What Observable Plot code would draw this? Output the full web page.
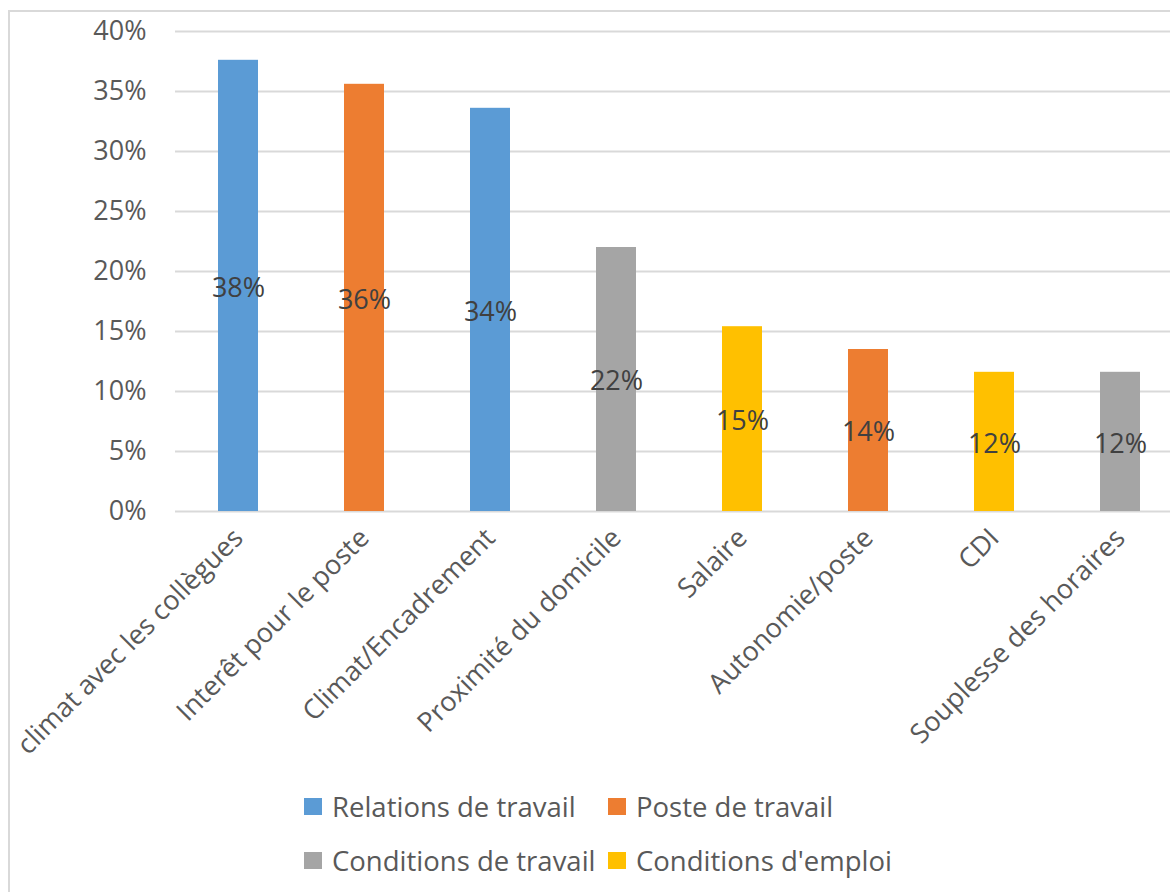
<!DOCTYPE html>
<html>
<head>
<meta charset="utf-8">
<script src="https://cdn.jsdelivr.net/npm/d3@7"></script>
<script src="https://cdn.jsdelivr.net/npm/@observablehq/plot@0.6"></script>
<style>
  html, body { margin: 0; padding: 0; background: #fff; overflow: hidden; width: 1170px; height: 892px; }
  #frame { position: absolute; left: 8px; top: 10px; width: 1300px; height: 1000px; border-left: 2px solid #d9d9d9; border-top: 2px solid #d9d9d9; z-index: 0; }
  #chart { position: absolute; left: 0; top: 0; z-index: 1; }
  #legend { position: absolute; left: 0; top: 0; z-index: 2; font-family: "Open Sans", sans-serif; font-size: 27.5px; color: #595959; }
  .item { position: absolute; display: flex; align-items: center; white-space: nowrap; height: 40px; }
  .sw { width: 18px; height: 17px; margin-right: 10px; flex: none; }
</style>
</head>
<body>
<div id="frame"></div>
<div id="chart"></div>
<div id="legend"></div>
<script>
const categories = ["climat avec les collègues", "Interêt pour le poste", "Climat/Encadrement", "Proximité du domicile", "Salaire", "Autonomie/poste", "CDI", "Souplesse des horaires"];
const values = [0.376, 0.356, 0.336, 0.22, 0.154, 0.135, 0.116, 0.116];
const groups = ["Relations de travail", "Poste de travail", "Relations de travail", "Conditions de travail", "Conditions d'emploi", "Poste de travail", "Conditions d'emploi", "Conditions de travail"];
const legendOrder = ["Relations de travail", "Poste de travail", "Conditions de travail", "Conditions d'emploi"];
const legendColors = ["#5B9BD5", "#ED7D31", "#A5A5A5", "#FFC000"];
const yTicks = [0, 0.05, 0.10, 0.15, 0.20, 0.25, 0.30, 0.35, 0.40];

const data = categories.map((c, i) => ({category: c, value: values[i], group: groups[i]}));
const fmt = d3.format(".0%");

const chart = Plot.plot({
  width: 1170,
  height: 770,
  marginTop: 31,
  marginBottom: 259,
  marginLeft: 175,
  marginRight: 0,
  style: {fontFamily: "'Open Sans', sans-serif", fontSize: "27px", color: "#595959", background: "transparent", overflow: "visible"},
  x: {domain: categories, range: [175, 1183], paddingInner: 0.683, paddingOuter: 0.3415, label: null},
  y: {domain: [0, 0.40], ticks: yTicks, label: null},
  color: {domain: legendOrder, range: legendColors},
  marks: [
    Plot.ruleY(yTicks, {stroke: "#d9d9d9", strokeWidth: 2, strokeOpacity: 1}),
    Plot.barY(data, {x: "category", y: "value", fill: "group"}),
    Plot.text(data, {x: "category", y: d => d.value / 2, dy: 2, text: d => fmt(d.value), fill: "#404040", fontSize: 27}),
    Plot.axisY({ticks: yTicks, tickFormat: fmt, tickSize: 0, tickPadding: 29, fill: "#595959", fontSize: 27}),
    Plot.axisX({tickRotate: -45, tickSize: 0, tickPadding: 22, fill: "#595959", fontSize: 27})
  ]
});
document.getElementById("chart").appendChild(chart);

const legend = document.getElementById("legend");
const pos = [[304, 786], [608, 786], [304, 840], [608, 840]];
legendOrder.forEach((g, i) => {
  const item = document.createElement("div");
  item.className = "item";
  item.style.left = pos[i][0] + "px";
  item.style.top = pos[i][1] + "px";
  const sw = document.createElement("span");
  sw.className = "sw";
  sw.style.background = legendColors[i];
  const t = document.createElement("span");
  t.textContent = g;
  item.appendChild(sw);
  item.appendChild(t);
  legend.appendChild(item);
});
</script>
</body>
</html>
